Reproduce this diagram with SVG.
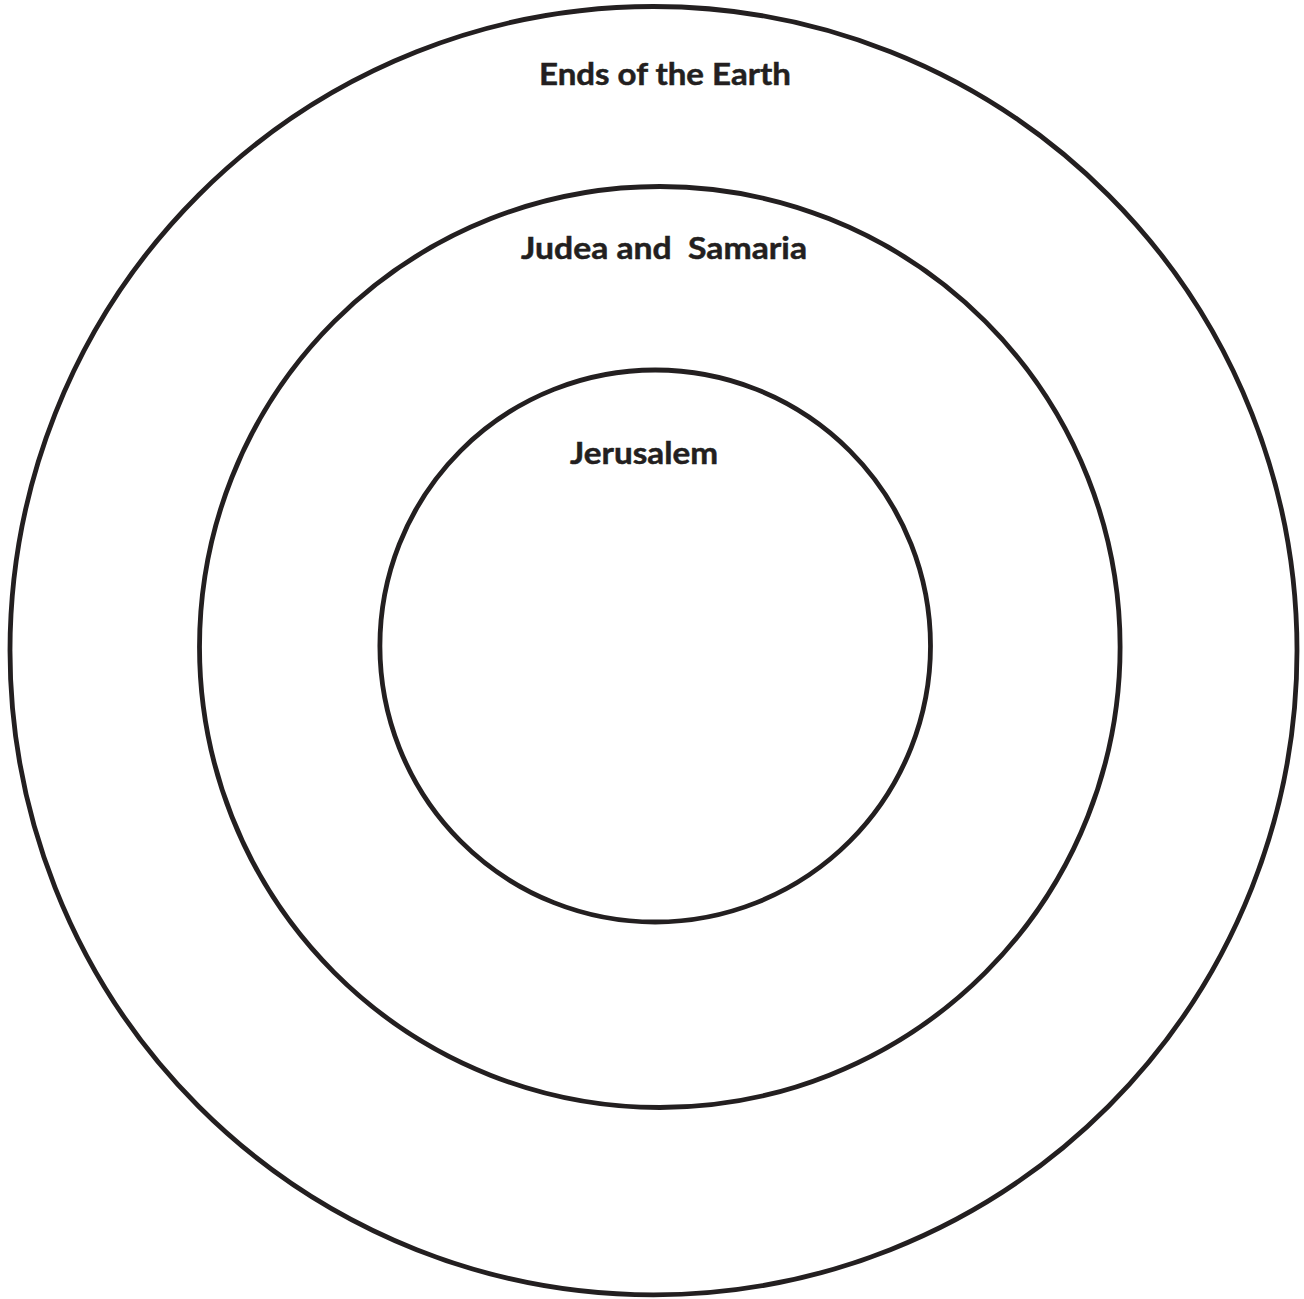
<svg xmlns="http://www.w3.org/2000/svg" width="1304" height="1299" viewBox="0 0 1304 1299">
<style>
.ring{fill:none;stroke:#231f20;stroke-width:4.8}
.lbl{font-family:Lato,"Open Sans","Liberation Sans",sans-serif;font-weight:700;font-size:31px;fill:#231f20;stroke:#231f20;stroke-width:0.5;white-space:pre}
</style>
<rect width="1304" height="1299" fill="#fff"/>
<g id="ends-of-the-earth">
<ellipse class="ring" cx="653.5" cy="650.7" rx="643.5" ry="644.2"/>
<text class="lbl" x="539" y="85" textLength="252" lengthAdjust="spacingAndGlyphs">Ends of the Earth</text>
</g>
<g id="judea-and-samaria">
<ellipse class="ring" cx="659.8" cy="647" rx="460.3" ry="460.5"/>
<text class="lbl" x="521" y="259" textLength="286" lengthAdjust="spacingAndGlyphs" xml:space="preserve">Judea and  Samaria</text>
</g>
<g id="jerusalem">
<ellipse class="ring" cx="655.2" cy="646" rx="275.3" ry="276"/>
<text class="lbl" x="570" y="464" textLength="148" lengthAdjust="spacingAndGlyphs">Jerusalem</text>
</g>
<g id="connectors"/>
</svg>
